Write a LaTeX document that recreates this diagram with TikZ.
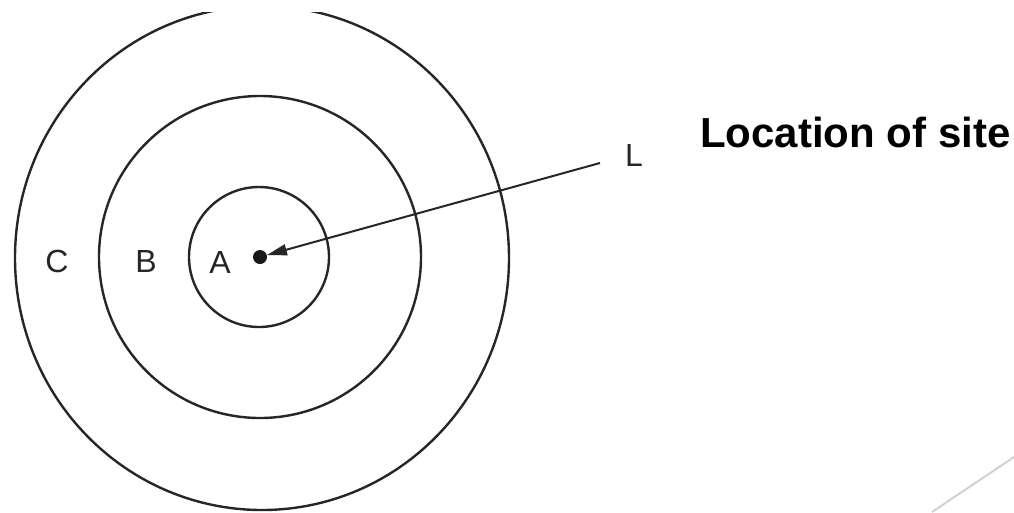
\documentclass[tikz,border=0pt]{standalone}
\usepackage{fontspec}
\setmainfont{Liberation Sans}
\usetikzlibrary{arrows.meta}
\begin{document}
\begin{tikzpicture}[x=1pt,y=-1pt,
  ring/.style={draw=black!85,line width=2.4pt},
  zone/.style={font=\fontsize{32}{36}\selectfont,text=black!85,inner sep=0pt},
  title/.style={font=\fontsize{42}{50}\selectfont\bfseries,inner sep=0pt,anchor=base west}]
\useasboundingbox (0,0) rectangle (1014,512);
% rings
\draw[ring] (259,257) circle (70);
\draw[ring] (260,257) circle (161);
\begin{scope}
  \clip (0,12) rectangle (1014,512);
  \draw[ring] (262,258) ellipse (247 and 252);
\end{scope}
% site dot and pointer
\node[circle,fill=black!90,minimum size=14pt,inner sep=0pt] (site) at (260,257) {};
\coordinate (lend) at (600,163);
\draw[black!85,line width=2pt,-{Triangle[length=20pt,width=11pt]}] (lend) -- (site);
% labels
\node[zone] (lL) at (634,155) {L};
\node[zone] (lA) at (220,262) {A};
\node[zone] (lB) at (146,261) {B};
\node[zone] (lC) at (57,261) {C};
\node[title] (ttl) at (700,147) {Location of site};
% decorative line
\coordinate (d1) at (932,512);
\coordinate (d2) at (1014,457);
\draw[black!18,line width=2pt] (d1) -- (d2);
\end{tikzpicture}
\end{document}
